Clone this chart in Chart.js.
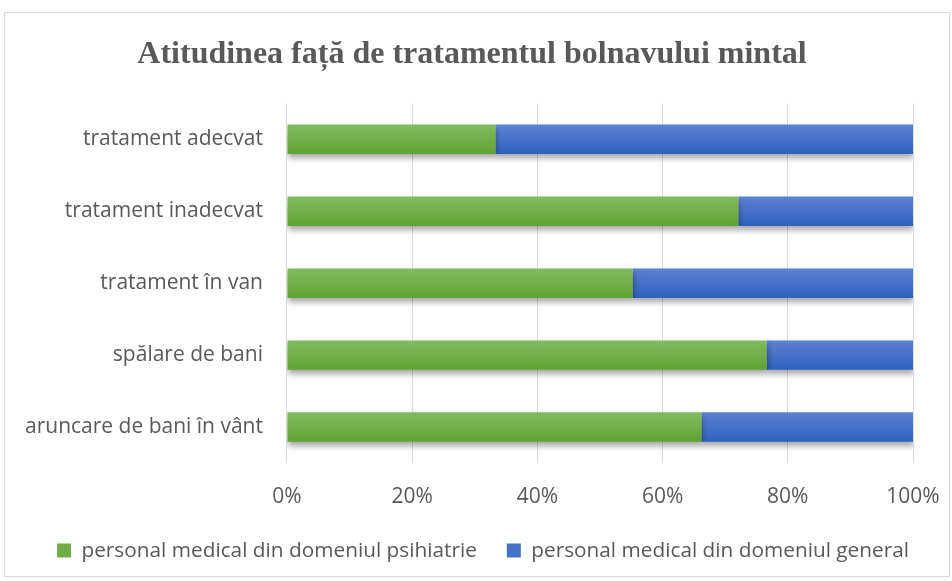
<!DOCTYPE html>
<html>
<head>
<meta charset="utf-8">
<script src="https://cdn.jsdelivr.net/npm/chart.js@4/dist/chart.umd.min.js"></script>
<style>
  html, body { margin: 0; padding: 0; background: #fff; }
  #wrap {
    position: absolute; left: 4px; top: 12px;
    width: 946px; height: 565px;
    border: 1px solid #d9d9d9; box-sizing: border-box;
  }
  #chart { display: block; }
</style>
</head>
<body>
<div id="wrap"><canvas id="chart" width="944" height="563"></canvas></div>
<script>
const categories = [
  "tratament adecvat",
  "tratament inadecvat",
  "tratament în van",
  "spălare de bani",
  "aruncare de bani în vânt"
]
const psihiatrie = [33.3, 72.1, 55.2, 76.6, 66.2]
const general = [66.7, 27.9, 44.8, 23.4, 33.8]
const seriesNames = [
  "personal medical din domeniul psihiatrie",
  "personal medical din domeniul general"
]

const textColor = "#595959"

// vertical gradient for each bar, from its row center on the category scale
function barGradient(top, bottom, solid) {
  return (ctx) => {
    const chart = ctx.chart
    const y = chart.scales.y
    if (!y || ctx.type !== "data") return solid
    const c = y.getPixelForValue(ctx.dataIndex)
    const g = chart.ctx.createLinearGradient(0, c - 15, 0, c + 15)
    g.addColorStop(0, top)
    g.addColorStop(1, bottom)
    return g
  }
}

// soft drop shadow under the bars
const barShadow = {
  id: "barShadow",
  beforeDatasetsDraw(chart) {
    const ctx = chart.ctx
    ctx.save()
    ctx.shadowColor = "rgba(0,0,0,0.35)"
    ctx.shadowBlur = 6
    ctx.shadowOffsetX = 1
    ctx.shadowOffsetY = 4
  },
  afterDatasetsDraw(chart) {
    chart.ctx.restore()
  }
}

new Chart(document.getElementById("chart"), {
  type: "bar",
  data: {
    labels: categories,
    datasets: [
      {
        label: seriesNames[0],
        data: psihiatrie,
        backgroundColor: barGradient("#83bb61", "#5fa233", "#70ad47"),
        barPercentage: 0.41,
        categoryPercentage: 1
      },
      {
        label: seriesNames[1],
        data: general,
        backgroundColor: barGradient("#5d82d0", "#2e61bd", "#4472c4"),
        barPercentage: 0.41,
        categoryPercentage: 1
      }
    ]
  },
  options: {
    indexAxis: "y",
    responsive: false,
    animation: false,
    layout: { padding: { left: 0, right: 10, top: 0, bottom: 5 } },
    scales: {
      x: {
        stacked: true,
        min: 0,
        max: 100,
        ticks: {
          stepSize: 20,
          callback: (v) => v + "%",
          color: textColor,
          font: { family: "Open Sans", size: 21 },
          padding: 21
        },
        grid: { color: "#d9d9d9", drawTicks: false },
        border: { display: false },
        // fixed room on the right, and tick labels closer to the legend
        afterFit: (scale) => {
          scale.paddingRight = 36
          scale.height -= 20
        }
      },
      y: {
        stacked: true,
        ticks: {
          color: textColor,
          font: { family: "Open Sans", size: 21 },
          padding: 16
        },
        grid: { display: false },
        border: { display: false },
        afterFit: (scale) => {
          scale.width += 4
        }
      }
    },
    plugins: {
      title: {
        display: true,
        text: "Atitudinea față de tratamentul bolnavului mintal",
        color: textColor,
        font: { family: "Liberation Serif", size: 32, weight: "bold" },
        padding: { top: 23, bottom: 29 }
      },
      legend: {
        position: "bottom",
        align: "end",
        labels: {
          color: textColor,
          font: { family: "Open Sans", size: 20.8 },
          boxWidth: 14,
          boxHeight: 14,
          padding: 30,
          generateLabels: (chart) => seriesNames.map((name, i) => ({
            text: name,
            fillStyle: ["#70ad47", "#4472c4"][i],
            strokeStyle: "rgba(0,0,0,0)",
            lineWidth: 0,
            datasetIndex: i,
            fontColor: textColor
          }))
        }
      },
      tooltip: { enabled: false }
    }
  },
  plugins: [barShadow]
})
</script>
</body>
</html>
